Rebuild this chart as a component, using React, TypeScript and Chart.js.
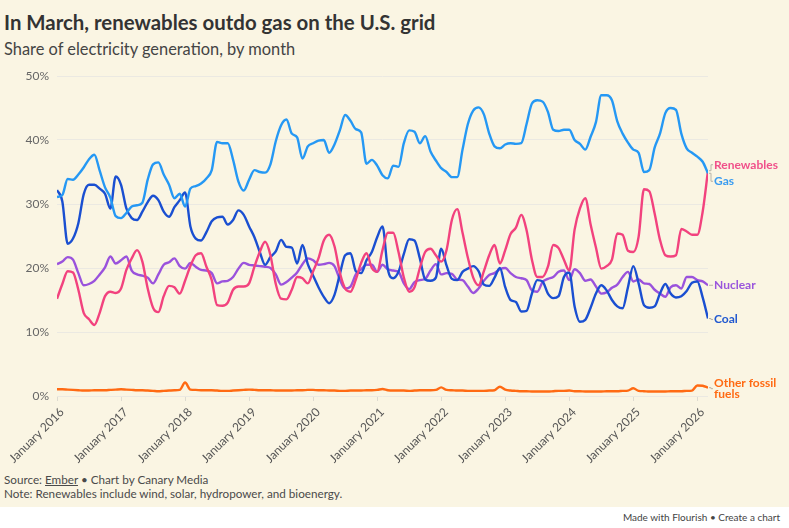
import React, { useEffect, useRef } from "react";
import { Chart, registerables } from "chart.js";

Chart.register(...registerables);

// ---------- DATA ----------
const START_YEAR = 2016;
const MONTH_NAMES = [
  "January", "February", "March", "April", "May", "June",
  "July", "August", "September", "October", "November", "December",
];

// Share of US electricity generation (%), monthly Jan 2016 - Mar 2026
const gas = [
  31.1, 31.4, 33.9, 33.8, 34.6, 35.7, 37.0, 37.7, 35.2, 32.6, 31.0, 28.1,
  27.8, 28.6, 29.6, 29.8, 30.2, 33.8, 36.2, 36.5, 34.6, 33.0, 30.9, 31.6,
  29.6, 32.4, 32.8, 33.2, 34.0, 35.3, 39.7, 39.5, 39.5, 36.9, 33.5, 32.1,
  33.8, 35.3, 35.0, 34.9, 36.2, 39.8, 42.3, 43.2, 41.0, 40.4, 37.1, 39.0,
  39.5, 39.9, 40.0, 38.0, 39.3, 41.5, 43.9, 43.0, 41.7, 41.2, 36.3, 36.9,
  36.0, 34.5, 34.0, 36.0, 35.8, 39.5, 41.5, 41.3, 39.5, 40.6, 38.2, 36.8,
  35.6, 35.0, 34.2, 34.2, 38.5, 42.5, 44.6, 45.1, 44.0, 41.0, 39.0, 38.7,
  39.3, 39.5, 39.4, 39.5, 42.5, 45.7, 46.2, 46.0, 44.4, 41.6, 41.4, 41.6,
  41.6, 40.0, 39.4, 38.5, 40.5, 42.8, 47.0, 47.0, 46.2, 42.9, 41.0, 39.6,
  38.5, 38.0, 35.0, 35.3, 38.8, 41.0, 44.2, 45.0, 44.7, 41.0, 38.7, 38.0,
  37.4, 36.6, 34.8,
];

const renewables = [
  15.2, 17.5, 19.5, 19.3, 16.6, 13.0, 12.0, 11.1, 13.0, 15.6, 16.3, 16.1,
  16.8, 19.7, 21.5, 22.8, 21.0, 16.8, 13.8, 13.1, 15.6, 17.2, 17.0, 16.0,
  18.0, 20.3, 22.0, 22.3, 20.2, 18.1, 14.2, 14.1, 14.6, 16.6, 17.1, 17.1,
  17.6, 20.2, 22.5, 24.1, 22.0, 17.5, 15.2, 15.1, 16.6, 18.6, 18.4, 17.6,
  19.5, 21.5, 24.3, 25.2, 23.4, 19.3, 16.8, 16.3, 18.2, 20.8, 22.3, 20.0,
  19.4, 22.8, 25.5, 25.5, 22.5, 18.5, 16.3, 17.0, 20.0, 22.5, 23.0, 22.0,
  21.0, 22.8, 27.5, 29.2, 25.5, 21.6, 18.5, 17.3, 19.5, 22.0, 23.6, 20.7,
  22.8, 25.3, 26.3, 28.3, 25.9, 21.3, 18.6, 18.6, 20.2, 23.6, 23.1, 21.3,
  19.6, 26.0, 29.3, 30.9, 26.8, 23.2, 19.9, 20.3, 21.3, 25.4, 25.2, 22.7,
  22.5, 24.9, 32.3, 32.0, 28.5, 24.4, 22.0, 21.8, 22.0, 26.1, 25.7, 25.2,
  25.2, 28.8, 35.2,
];

const coal = [
  32.2, 30.4, 23.8, 24.6, 27.0, 31.5, 33.0, 33.0, 32.4, 31.6, 29.3, 34.3,
  33.0, 29.3, 27.8, 27.5, 28.8, 30.3, 31.3, 30.6, 28.8, 28.0, 29.5, 30.6,
  31.8, 26.5, 24.6, 24.3, 25.6, 27.3, 27.9, 28.0, 26.8, 27.5, 29.0, 28.3,
  26.5, 24.8, 22.5, 20.5, 21.7, 22.6, 24.4, 23.3, 23.2, 20.7, 23.6, 20.6,
  18.8, 17.0, 15.5, 14.5, 15.8, 19.0, 22.0, 22.3, 19.5, 19.2, 21.2, 22.5,
  24.8, 26.5, 19.8, 18.4, 19.4, 22.2, 24.5, 24.3, 21.5, 18.2, 18.0, 18.5,
  23.0, 20.4, 18.3, 18.1, 19.4, 19.9, 20.3, 19.5, 17.4, 17.2, 18.5, 20.0,
  17.0, 15.0, 14.7, 13.2, 13.3, 16.0, 18.1, 17.9, 16.0, 15.3, 15.6, 18.6,
  19.3, 14.0, 11.6, 11.9, 13.8, 16.0, 17.3, 16.5, 15.0, 14.0, 13.7, 17.0,
  20.3, 17.6, 14.2, 13.8, 14.0, 16.0, 17.5, 16.0, 15.4, 15.6, 16.4, 17.7,
  17.9, 15.4, 12.1,
];

const nuclear = [
  20.6, 21.0, 21.7, 21.3, 19.2, 17.3, 17.5, 18.0, 19.0, 20.1, 21.8, 20.7,
  21.2, 21.8, 19.6, 19.0, 18.8, 18.5, 17.6, 19.0, 20.5, 20.9, 21.5, 20.3,
  19.9, 20.8, 20.2, 19.7, 19.6, 19.2, 17.6, 17.9, 18.0, 18.6, 19.9, 20.8,
  20.5, 20.4, 20.3, 20.2, 20.0, 19.0, 17.4, 17.8, 18.5, 19.3, 20.6, 21.5,
  21.2, 20.5, 20.6, 20.8, 20.3, 18.2, 16.8, 17.1, 19.0, 19.8, 20.5, 20.5,
  19.4, 20.5, 19.8, 19.6, 19.4, 17.6, 16.7, 17.8, 18.1, 18.3, 19.6, 20.6,
  19.0, 19.2, 19.1, 18.2, 18.1, 17.1, 16.1, 16.8, 18.0, 18.9, 19.2, 19.8,
  20.0, 19.2, 18.6, 18.4, 18.1, 16.5, 16.3, 17.8, 18.3, 18.6, 19.4, 19.6,
  18.1, 19.8, 19.2, 18.0, 18.2, 17.1, 16.0, 16.2, 16.9, 17.4, 18.6, 19.4,
  17.9, 18.2, 17.6, 17.5, 16.6, 16.0, 15.5, 17.0, 17.3, 16.8, 18.6, 18.6,
  18.1, 17.9, 17.3,
];

const otherFossil = [
  1.05, 1.05, 1.0, 0.95, 0.9, 0.85, 0.85, 0.9, 0.9, 0.9, 0.95, 1.0,
  1.05, 1.0, 0.95, 0.9, 0.9, 0.85, 0.8, 0.75, 0.8, 0.85, 0.9, 0.95,
  2.1, 1.0, 0.95, 0.9, 0.9, 0.9, 0.85, 0.8, 0.8, 0.85, 0.9, 0.95,
  1.0, 0.95, 0.9, 0.9, 0.9, 0.85, 0.85, 0.85, 0.85, 0.9, 0.9, 0.95,
  0.95, 0.9, 0.9, 0.85, 0.85, 0.8, 0.8, 0.85, 0.85, 0.85, 0.9, 0.9,
  0.95, 1.1, 0.9, 0.85, 0.85, 0.85, 0.8, 0.85, 0.9, 0.9, 0.9, 0.95,
  1.35, 0.95, 0.9, 0.85, 0.85, 0.8, 0.8, 0.8, 0.8, 0.85, 0.9, 1.45,
  1.0, 0.85, 0.8, 0.75, 0.75, 0.7, 0.7, 0.7, 0.7, 0.75, 0.8, 0.8,
  0.85, 0.75, 0.75, 0.7, 0.7, 0.7, 0.7, 0.75, 0.75, 0.75, 0.8, 0.85,
  1.2, 0.8, 0.75, 0.7, 0.7, 0.7, 0.7, 0.75, 0.75, 0.75, 0.8, 0.85,
  1.65, 1.6, 1.3,
];

const seriesNames = ["Gas", "Renewables", "Coal", "Nuclear", "Other fossil fuels"];
const endLabelLines = [["Gas"], ["Renewables"], ["Coal"], ["Nuclear"], ["Other fossil", "fuels"]];
const yTickValues = [0, 10, 20, 30, 40, 50];

// ---------- STYLE ----------
const FONT = "Lato, 'Noto Sans', sans-serif";
const CREAM = "#faf5e3";
const lineColors = ["#2598f4", "#f2427e", "#1a4fd1", "#9a52dc", "#ff6a13"];
const labelColors = ["#3a9cf0", "#f0508a", "#2058d0", "#9a55dc", "#ff6a13"];
const labelDy = [8, -6, 1, 0, 1];

const monthLabels: string[] = [];
for (let i = 0; i < gas.length; i++) {
  monthLabels.push(`${MONTH_NAMES[i % 12]} ${START_YEAR + Math.floor(i / 12)}`);
}
const januaryIdx = monthLabels
  .map((l, i) => (l.startsWith("January") ? i : -1))
  .filter((i) => i >= 0);

const allSeries = [gas, renewables, coal, nuclear, otherFossil];

const endLabelPlugin = {
  id: "endLabels",
  afterDatasetsDraw(chart: any) {
    const ctx = chart.ctx;
    const right = chart.chartArea.right;
    ctx.save();
    ctx.font = `bold 12px ${FONT}`;
    ctx.textBaseline = "middle";
    ctx.textAlign = "left";
    chart.data.datasets.forEach((_ds: any, i: number) => {
      const meta = chart.getDatasetMeta(i);
      const pt = meta.data[meta.data.length - 1];
      const lines = endLabelLines[i];
      const lh = 11;
      const cy = pt.y + labelDy[i];
      ctx.strokeStyle = "#b8b4a8";
      ctx.lineWidth = 1;
      ctx.beginPath();
      ctx.moveTo(right + 1, pt.y);
      ctx.lineTo(right + 3, pt.y);
      ctx.lineTo(right + 3, cy);
      ctx.lineTo(right + 5, cy);
      ctx.stroke();
      ctx.fillStyle = labelColors[i];
      lines.forEach((t, k) => {
        const y = cy + (k - (lines.length - 1) / 2) * lh;
        ctx.fillText(t, right + 6, y);
      });
    });
    ctx.restore();
  },
};

function LineChart() {
  const ref = useRef<HTMLCanvasElement | null>(null);
  useEffect(() => {
    if (!ref.current) return;
    const chart = new Chart(ref.current, {
      type: "line",
      data: {
        datasets: allSeries.map((vals, i) => ({
          label: seriesNames[i],
          data: vals.map((v, k) => ({ x: k, y: v })),
          borderColor: lineColors[i],
          backgroundColor: lineColors[i],
          borderWidth: 2.4,
          pointRadius: 0,
          cubicInterpolationMode: "monotone" as const,
          fill: false,
        })),
      },
      options: {
        responsive: false,
        animation: false,
        layout: { padding: { top: 16, right: 81, left: 0, bottom: 0 } },
        plugins: { legend: { display: false }, tooltip: { enabled: false } },
        scales: {
          x: {
            type: "linear",
            min: 0,
            max: gas.length - 1,
            afterBuildTicks: (s: any) => {
              s.ticks = januaryIdx.map((v) => ({ value: v }));
            },
            afterFit: (s: any) => {
              s.height = 74;
            },
            ticks: {
              autoSkip: false,
              maxRotation: 45,
              minRotation: 45,
              padding: 4,
              labelOffset: 5,
              color: "#555",
              font: { family: FONT, size: 12 },
              callback: (v: any) => monthLabels[Math.round(Number(v))],
            },
            grid: { drawOnChartArea: false, drawTicks: true, tickLength: 5, color: "#dedbd0" },
            border: { display: false },
          },
          y: {
            min: 0,
            max: 50,
            afterBuildTicks: (s: any) => {
              s.ticks = yTickValues.map((v) => ({ value: v }));
            },
            afterFit: (s: any) => {
              s.width = 57;
            },
            ticks: {
              padding: 8,
              color: "#666",
              font: { family: FONT, size: 12 },
              callback: (v: any) => `${v}%`,
            },
            grid: { color: "#ebe9e2", drawTicks: false, lineWidth: 1 },
            border: { display: false },
          },
        },
      },
      plugins: [endLabelPlugin],
    });
    return () => chart.destroy();
  }, []);
  return (
    <canvas
      ref={ref}
      width={789}
      height={410}
      style={{ position: "absolute", left: 0, top: 60, width: 789, height: 410 }}
    />
  );
}

export default function App() {
  return (
    <div
      style={{
        position: "absolute",
        left: 0,
        top: 0,
        width: 789,
        height: 528,
        background: "#fff",
        fontFamily: FONT,
        overflow: "hidden",
      }}
    >
      <div style={{ position: "absolute", left: 0, top: 0, width: 789, height: 507, background: CREAM }} />
      <div
        style={{
          position: "absolute",
          left: 4,
          top: 10,
          fontSize: 20.4,
          lineHeight: "24px",
          fontWeight: 700,
          color: "#333",
          whiteSpace: "nowrap",
        }}
      >
        In March, renewables outdo gas on the U.S. grid
      </div>
      <div
        style={{
          position: "absolute",
          left: 4,
          top: 39,
          fontSize: 16.4,
          lineHeight: "19px",
          color: "#444",
          whiteSpace: "nowrap",
        }}
      >
        Share of electricity generation, by month
      </div>
      <LineChart />
      <div
        style={{
          position: "absolute",
          left: 4,
          top: 472,
          fontSize: 11.7,
          lineHeight: "14px",
          color: "#4a4a4a",
          whiteSpace: "nowrap",
        }}
      >
        <div>
          Source: <span style={{ textDecoration: "underline" }}>Ember</span> • Chart by Canary Media
        </div>
        <div>Note: Renewables include wind, solar, hydropower, and bioenergy.</div>
      </div>
      <div
        style={{
          position: "absolute",
          right: 9,
          top: 511,
          fontSize: 10,
          lineHeight: "12px",
          color: "#444",
          whiteSpace: "nowrap",
        }}
      >
        Made with Flourish • Create a chart
      </div>
    </div>
  );
}
